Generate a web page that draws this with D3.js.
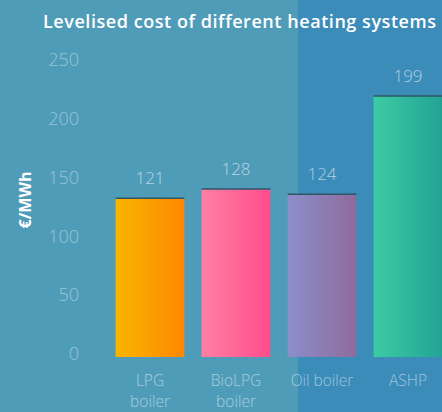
<!DOCTYPE html>
<html><head><meta charset="utf-8">
<script src="https://cdn.jsdelivr.net/npm/d3@7"></script>
<style>
html,body{margin:0;padding:0;background:#4f9cb9;overflow:hidden;}
text{font-family:"Open Sans",sans-serif;}
</style></head>
<body>
<svg id="c" width="442" height="412"></svg>
<script>
const categories = ["LPG\nboiler", "BioLPG\nboiler", "Oil boiler", "ASHP"];
const values = [121, 128, 124, 199];
const yTicks = [0, 50, 100, 150, 200, 250];
const title = "Levelised cost of different heating systems";
const yLabel = "€/MWh";
const barColors = [["#f7b500", "#ff8800"], ["#ff80a4", "#ff4d8c"], ["#8b8fcb", "#8e6b9c"], ["#3ccca2", "#22a396"]];

const svg = d3.select("#c");
const W = 442, H = 412;

svg.append("rect").attr("x", 0).attr("y", 0).attr("width", W).attr("height", H).attr("fill", "#4f9cb9");
svg.append("rect").attr("x", 298).attr("y", 0).attr("width", W - 298).attr("height", H).attr("fill", "#3b8cb9");

const defs = svg.append("defs");
barColors.forEach((c, i) => {
  const g = defs.append("linearGradient").attr("id", "g" + i).attr("x1", "0").attr("x2", "1").attr("y1", "0").attr("y2", "0");
  g.append("stop").attr("offset", "0").attr("stop-color", c[0]);
  g.append("stop").attr("offset", "1").attr("stop-color", c[1]);
});

const x = d3.scaleBand().domain(categories).range([107, 451]).paddingInner(0.2).paddingOuter(0.1);
const yBar = d3.scaleLinear().domain([0, 250]).range([357, 29]);
const yAxisScale = d3.scaleLinear().domain([0, 250]).range([354, 60]);

// title
svg.append("text").attr("x", 43).attr("y", 28).attr("fill", "#ffffff")
  .attr("font-size", 18).attr("font-weight", 600).attr("letter-spacing", 0.55).text(title);

// y axis
const ax = svg.append("g").attr("transform", "translate(79,0)")
  .call(d3.axisLeft(yAxisScale).tickValues(yTicks).tickSize(0).tickPadding(0));
ax.select(".domain").remove();
ax.selectAll("text").attr("fill", "rgba(255,255,255,0.42)").attr("font-size", 18)
  .attr("font-weight", 300).attr("font-family", "'Open Sans',sans-serif");

svg.append("text").attr("transform", "translate(31,200) rotate(-90)").attr("text-anchor", "middle")
  .attr("fill", "#ffffff").attr("font-size", 16).attr("font-weight", 700).text(yLabel);

// bars
const bars = svg.append("g");
bars.selectAll("rect").data(values).join("rect")
  .attr("x", (d, i) => x(categories[i]))
  .attr("y", d => yBar(d))
  .attr("width", x.bandwidth())
  .attr("height", d => yBar(0) - yBar(d))
  .attr("fill", (d, i) => `url(#g${i})`);
bars.selectAll("line").data(values).join("line")
  .attr("x1", (d, i) => x(categories[i]))
  .attr("x2", (d, i) => x(categories[i]) + x.bandwidth())
  .attr("y1", d => yBar(d)).attr("y2", d => yBar(d))
  .attr("stroke", "#2f5566").attr("stroke-width", 1.5);

// value labels
svg.append("g").selectAll("text").data(values).join("text")
  .attr("x", (d, i) => x(categories[i]) + x.bandwidth() / 2)
  .attr("y", d => yBar(d) - 14)
  .attr("text-anchor", "middle").attr("fill", "rgba(255,255,255,0.6)")
  .attr("font-size", 17).attr("font-weight", 300).text(d => d);

// category labels (one text per line)
const catLines = [];
categories.forEach(c => c.split("\n").forEach((line, j) => catLines.push({ c, line, j })));
svg.append("g").selectAll("text").data(catLines).join("text")
  .attr("x", d => x(d.c) + x.bandwidth() / 2)
  .attr("y", d => 386 + d.j * 21.3)
  .attr("text-anchor", "middle").attr("fill", "rgba(255,255,255,0.5)")
  .attr("font-size", 15.5).attr("font-weight", 300).text(d => d.line);
</script>
</body></html>
